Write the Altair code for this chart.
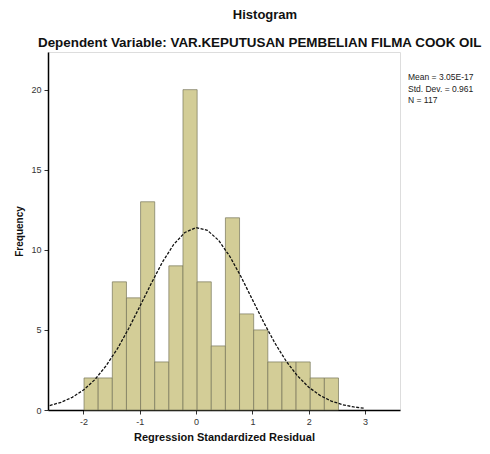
import altair as alt
import pandas as pd

# Histogram bins (standardized residual) and frequencies
bin_start = [-1.990, -1.739, -1.488, -1.237, -0.986, -0.735, -0.484, -0.233, 0.018,
             0.269, 0.520, 0.771, 1.022, 1.273, 1.524, 1.775, 2.026, 2.277]
bin_end = [-1.739, -1.488, -1.237, -0.986, -0.735, -0.484, -0.233, 0.018, 0.269,
           0.520, 0.771, 1.022, 1.273, 1.524, 1.775, 2.026, 2.277, 2.528]
counts = [2, 2, 8, 7, 13, 3, 9, 20, 8, 4, 12, 6, 5, 3, 3, 3, 2, 2]

# Normal curve points
curve_x = [-2.6, -2.4, -2.2, -2.0, -1.8, -1.6, -1.4, -1.2, -1.0, -0.8, -0.6, -0.4, -0.2,
           0.0, 0.2, 0.4, 0.6, 0.8, 1.0, 1.2, 1.4, 1.6, 1.8, 2.0, 2.2, 2.4, 2.6, 2.8, 3.0]
curve_y = [0.28, 0.48, 0.79, 1.25, 1.89, 2.75, 3.81, 5.07, 6.46, 7.88, 9.22, 10.33, 11.08,
           11.39, 11.22, 10.59, 9.58, 8.30, 6.89, 5.47, 4.17, 3.04, 2.13, 1.42, 0.91, 0.56,
           0.33, 0.19, 0.10]

x_ticks = [-2, -1, 0, 1, 2, 3]
y_ticks = [0, 5, 10, 15, 20]

title_text = "Histogram"
subtitle_text = "Dependent Variable: VAR.KEPUTUSAN PEMBELIAN FILMA COOK OIL"
stats_text = ["Mean = 3.05E-17", "Std. Dev. = 0.961", "N = 117"]

W, H = 352, 358
FONT = "Liberation Sans"

bars_df = pd.DataFrame({"start": bin_start, "end": bin_end, "count": counts})
curve_df = pd.DataFrame({"x": curve_x, "y": curve_y})

xs = alt.Scale(domain=[-2.63, 3.62], nice=False, zero=False)
ys = alt.Scale(domain=[0, 22.35], nice=False)

bars = alt.Chart(bars_df).mark_rect(
    color="#d3cd97", stroke="#77765a", strokeWidth=0.7
).encode(
    x=alt.X("start:Q", scale=xs,
            axis=alt.Axis(values=x_ticks, title="Regression Standardized Residual",
                          grid=False, domainColor="#000", domainWidth=1.5,
                          tickColor="#333", tickSize=4, labelFontSize=9,
                          labelColor="#333", labelFont=FONT, titleFont=FONT,
                          titleFontSize=11, titleFontWeight="bold", titleColor="#111",
                          titlePadding=5, labelPadding=3,
                          labelExpr="replace(format(datum.value, 'd'), '\u2212', '-')")),
    x2="end:Q",
    y=alt.Y("count:Q", scale=ys,
            axis=alt.Axis(values=y_ticks, title="Frequency", grid=False,
                          domainColor="#000", domainWidth=1.5, tickColor="#333",
                          tickSize=4, labelFontSize=9, labelColor="#333",
                          labelFont=FONT, titleFont=FONT, titleFontSize=10,
                          titleFontWeight="bold", titleColor="#111",
                          titleX=-24, titleY=H / 2, labelPadding=3)),
    y2=alt.datum(0),
)

curve = alt.Chart(curve_df).mark_line(
    color="#111", strokeWidth=1.3, strokeDash=[3, 1.5], clip=True
).encode(x=alt.X("x:Q", scale=xs), y=alt.Y("y:Q", scale=ys))

title = alt.Chart(pd.DataFrame({"t": [title_text]})).mark_text(
    font=FONT, fontSize=13, fontWeight="bold", color="#111", align="center",
    baseline="middle"
).encode(text="t:N", x=alt.value(217), y=alt.value(-37))

subtitle = alt.Chart(pd.DataFrame({"t": [subtitle_text]})).mark_text(
    font=FONT, fontSize=13.4, fontWeight="bold", color="#111", align="left",
    baseline="middle"
).encode(text="t:N", x=alt.value(-10), y=alt.value(-9))

stats = alt.Chart(pd.DataFrame({"t": stats_text, "yy": [25, 36.5, 48]})).mark_text(
    font=FONT, fontSize=8.5, color="#222", align="left", baseline="middle"
).encode(text="t:N", x=alt.value(360), y=alt.Y("yy:Q", scale=None))

chart = alt.layer(bars, curve, title, subtitle, stats).properties(
    width=W, height=H,
    autosize=alt.AutoSizeParams(type="none"),
    padding={"left": 40, "top": 44, "right": 82, "bottom": 36},
).configure_view(
    fill="#efeff1", stroke="#333", strokeWidth=1
).configure(background="#ffffff")

chart.save("out.html", embed_options={"renderer": "svg", "actions": False})
